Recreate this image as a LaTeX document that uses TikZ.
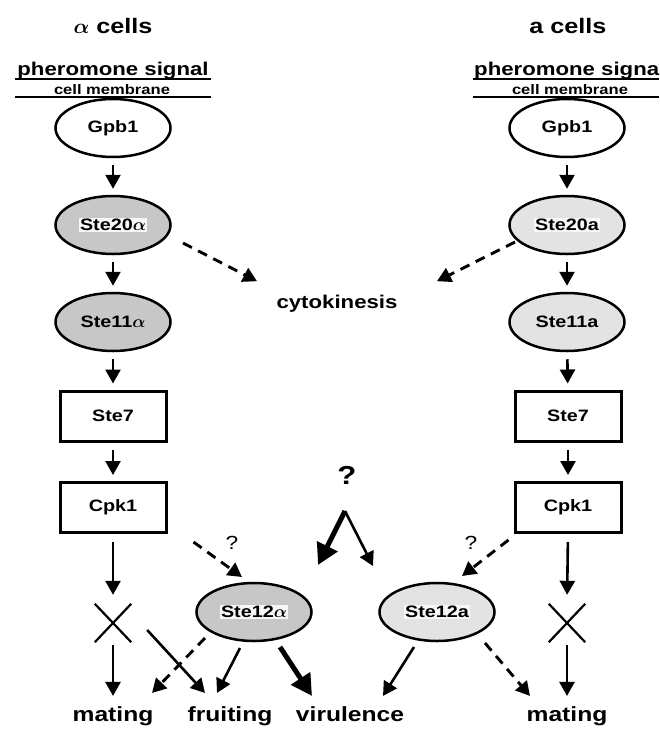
\documentclass[tikz,border=0pt]{standalone}
\usepackage{fontspec}
\setmainfont{Liberation Sans}[FakeStretch=1.2]
\usetikzlibrary{arrows.meta,shapes.geometric}
\definecolor{alphafill}{gray}{0.78}
\definecolor{afill}{gray}{0.89}
\definecolor{labelbg}{gray}{0.97}
\newcommand{\tagbox}[1]{{\setlength{\fboxsep}{1pt}\colorbox{labelbg}{#1}}}

\begin{document}
\begin{tikzpicture}[x=1pt,y=-1pt,
  every node/.style={font=\bfseries\boldmath\fontsize{16.5}{18}\selectfont, inner sep=0pt},
  protein/.style={ellipse, draw, line width=2.5pt, minimum width=115pt, minimum height=58pt},
  darkp/.style={protein, fill=alphafill},
  lightp/.style={protein, fill=afill},
  plainp/.style={protein, fill=white},
  kinase/.style={draw, line width=3pt, minimum width=106pt, minimum height=50pt},
  blocked/.style={minimum width=36pt, minimum height=38pt},
  arr/.style={line width=2.6pt, -{Triangle[length=14pt,width=15pt]}},
  varr/.style={arr, shorten <=7pt, shorten >=6pt},
  darr/.style={arr, line width=2.9pt, dash pattern=on 10pt off 7pt},
  bigarr/.style={line width=5pt, -{Triangle[length=21pt,width=22pt]}},
  celltitle/.style={font=\bfseries\boldmath\fontsize{21}{24}\selectfont, anchor=base},
  signal/.style={font=\bfseries\fontsize{18.5}{20}\selectfont, anchor=base},
  membrane/.style={font=\bfseries\fontsize{13.8}{15}\selectfont, anchor=base},
  process/.style={font=\bfseries\fontsize{18.5}{20}\selectfont, anchor=base},
  outcome/.style={font=\bfseries\fontsize{20.5}{24}\selectfont, anchor=base},
  query/.style={font=\fontsize{19}{20}\selectfont},
  bigquery/.style={font=\bfseries\fontsize{26}{28}\selectfont},
  mline/.style={line width=2pt}
]
\useasboundingbox (0,0) rectangle (659,731);

% ---------- headings and membranes ----------
\node[celltitle] (tl) at (113,33) {$\alpha$ cells};
\node[celltitle] (tr) at (568,33) {a cells};

\node[signal] (sigl) at (113,75) {pheromone signal};
\node[signal, anchor=base west] (sigr) at (474,75) {pheromone signa};
\node[membrane] (meml) at (112,94) {cell membrane};
\node[membrane] (memr) at (570,94) {cell membrane};
\draw[mline] (15,79) -- (211,79) (15,97) -- (211,97);
\draw[mline] (473,79) -- (659,79) (473,97) -- (659,97);

% ---------- alpha cascade ----------
\node[plainp] (gl) at (113,128) {Gpb1};
\node[darkp] (s20l) at (113,225) {\tagbox{Ste20$\alpha$}};
\node[darkp] (s11l) at (113,322) {Ste11$\alpha$};
\node[kinase] (s7l) at (113,416) {Ste7};
\node[kinase] (cpl) at (113,507.5) {Cpk1};
\node[blocked] (xl) at (113,623) {};
\draw[line width=2.2pt] (xl.north west) -- (xl.south east) (xl.north east) -- (xl.south west);

% ---------- a cascade ----------
\node[plainp] (gr) at (567,128) {Gpb1};
\node[lightp] (s20r) at (567,225) {\tagbox{Ste20a}};
\node[lightp] (s11r) at (567,322) {Ste11a};
\node[kinase] (s7r) at (568,416) {Ste7};
\node[kinase] (cpr) at (568,507.5) {Cpk1};
\node[blocked] (xr) at (567,623) {};
\draw[line width=2.2pt] (xr.north west) -- (xr.south east) (xr.north east) -- (xr.south west);

% ---------- transcription factors ----------
\node[darkp] (s12l) at (254,612) {\tagbox{Ste12$\alpha$}};
\node[lightp] (s12r) at (437,612) {\tagbox{Ste12a}};

% ---------- outcomes ----------
\node[process] (cyto) at (337,308) {cytokinesis};
\node[outcome] (matl) at (113,721) {mating};
\node[outcome] (fruit) at (230,721) {fruiting};
\node[outcome] (viru) at (350,721) {virulence};
\node[outcome] (matr) at (567,721) {mating};

\node[query] (ql) at (232,543) {?};
\node[query] (qr) at (471,543) {?};
\node[bigquery] (qc) at (347,475) {?};
\coordinate (apex) at ([shift={(-2,36)}]qc.center);

% ---------- vertical signalling ----------
\draw[varr] (gl) -- (s20l);
\draw[varr] (s20l) -- (s11l);
\draw[varr] (s11l) -- (s7l);
\draw[varr] (s7l) -- (cpl);
\draw[arr, shorten <=8pt, shorten >=9pt] (cpl) -- (xl);
\draw[arr, shorten <=3pt] (xl.south) -- ([shift={(0,-10)}]matl.north);

\draw[varr] (gr) -- (s20r);
\draw[varr] (s20r) -- (s11r);
\draw[varr] (s11r) -- (s7r);
\draw[varr] (s7r) -- (cpr);
\draw[arr, shorten <=8pt, shorten >=9pt] (cpr.south) -- (xr.north);
\draw[arr, shorten <=3pt] (xr.south) -- ([shift={(0,-10)}]matr.north);

% ---------- cytokinesis branches ----------
\draw[darr] ([shift={(70,18)}]s20l.center) -- ([shift={(-80,-22)}]cyto.center);
\draw[darr] ([shift={(-52,17)}]s20r.center) -- ([shift={(100,-22)}]cyto.center);

% ---------- Cpk1 to Ste12 (uncertain) ----------
\draw[darr] ([shift={(26,8)}]cpl.south east) -- ([shift={(-12,-35)}]s12l.center);
\draw[darr] ([shift={(-5,6)}]cpr.south west) -- ([shift={(25,-36)}]s12r.center);

% ---------- unknown input ----------
\draw[bigarr] (apex) -- ([shift={(64,-47)}]s12l.center);
\draw[arr] (apex) -- ([shift={(-64,-46)}]s12r.center);

% ---------- outputs ----------
\draw[arr] ([shift={(16,7)}]xl.east) -- ([shift={(-25,-13)}]fruit.north);
\draw[darr] ([shift={(-49,26)}]s12l.center) -- ([shift={(39,-13)}]matl.north);
\draw[arr] ([shift={(-14,36)}]s12l.center) -- ([shift={(-13,-13)}]fruit.north);
\draw[bigarr] ([shift={(26,35)}]s12l.center) -- ([shift={(-38,-10)}]viru.north);
\draw[arr] ([shift={(-23,35)}]s12r.center) -- ([shift={(33,-10)}]viru.north);
\draw[darr] ([shift={(48,31)}]s12r.center) -- ([shift={(-37,-10)}]matr.north);
\end{tikzpicture}
\end{document}
